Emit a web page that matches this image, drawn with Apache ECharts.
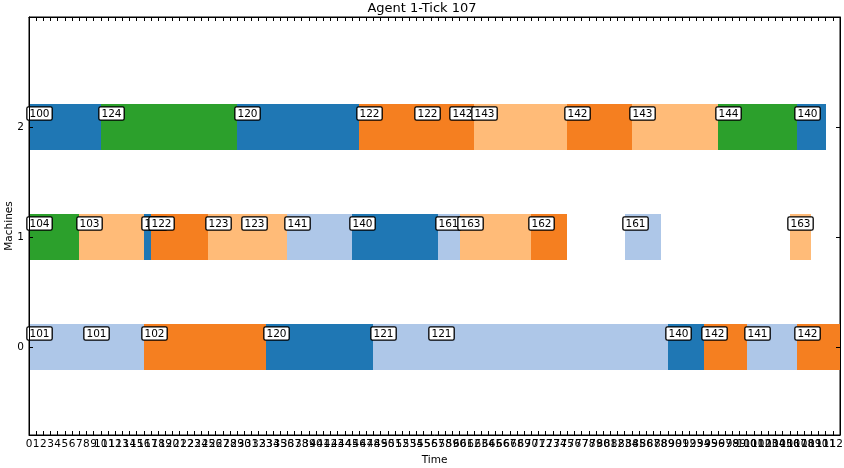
<!DOCTYPE html>
<html>
<head>
<meta charset="utf-8">
<script src="https://cdn.jsdelivr.net/npm/echarts@6/dist/echarts.min.js"></script>
<style>
  html, body { margin: 0; padding: 0; background: #fff; }
  #chart { width: 844px; height: 468px; }
</style>
</head>
<body>
<div id="chart"></div>
<script>
// Schedule of operations per machine (time units); job id labels each block.
const machineTicks = [0, 1, 2];
const taskMachine = [2, 2, 2, 2, 2, 2, 2, 2, 2, 2, 2,
                     1, 1, 1, 1, 1, 1, 1, 1, 1, 1, 1, 1, 1,
                     0, 0, 0, 0, 0, 0, 0, 0, 0, 0];
const taskStart   = [0, 10, 29, 46, 54, 59, 62, 75, 84, 96, 107,
                     0, 7, 16, 17, 25, 30, 36, 45, 57, 60, 70, 83, 106,
                     0, 8, 16, 33, 48, 56, 89, 94, 100, 107];
const taskEnd     = [10, 29, 46, 54, 59, 62, 75, 84, 96, 107, 111,
                     7, 16, 17, 25, 30, 36, 45, 57, 60, 70, 75, 88, 109,
                     8, 16, 33, 48, 56, 89, 94, 100, 107, 113];
const taskJob     = [100, 124, 120, 122, 122, 142, 143, 142, 143, 144, 140,
                     104, 103, 100, 122, 123, 123, 141, 140, 161, 163, 162, 161, 163,
                     101, 101, 102, 120, 121, 121, 140, 142, 141, 142];
const timeMax = 113;

// tab20 shades picked by the last digit of the job id
const palette = ['#1f77b4', '#aec7e8', '#f57f20', '#ffbb78', '#2ca02c',
                 '#98df8a', '#d62728', '#ff9896', '#9467bd', '#c5b0d5'];
const HALF = 0.21;

const rows = taskJob.map((job, i) => [taskMachine[i], taskStart[i], taskEnd[i], job]);

const chart = echarts.init(document.getElementById('chart'), null, { renderer: 'canvas' });
const FONT = '"DejaVu Sans", "Liberation Sans", sans-serif';

function renderBar(params, api) {
  const m = api.value(0), s = api.value(1), e = api.value(2), job = api.value(3);
  const p0 = api.coord([s, m + HALF]);
  const p1 = api.coord([e, m - HALF]);
  // snap edges to whole pixels so neighbouring blocks meet without a seam
  const x0 = Math.round(p0[0]), x1 = Math.round(p1[0]);
  const y0 = Math.round(p0[1]), y1 = Math.round(p1[1]);
  return {
    type: 'rect',
    shape: { x: x0, y: y0, width: x1 - x0, height: y1 - y0 },
    style: { fill: palette[job % 10] }
  };
}

function renderLabel(params, api) {
  const m = api.value(0), s = api.value(1), job = api.value(3);
  const p = api.coord([s, m + HALF]);
  return {
    type: 'text',
    x: Math.round(p[0]) - 1.5,
    y: Math.round(p[1]) + 3.5,
    style: {
      text: String(job),
      fill: '#000',
      fontSize: 10.5,
      fontFamily: FONT,
      align: 'left',
      verticalAlign: 'top',
      backgroundColor: '#fff',
      borderColor: '#000',
      borderWidth: 1.3,
      borderRadius: 1,
      padding: [1, 2, 0, 2]
    }
  };
}

const xLabels = {
  interval: 0,
  fontSize: 10.5,
  fontFamily: FONT,
  color: '#000',
  margin: 4,
  formatter: v => (v >= timeMax ? '' : String(v))
};

const frameLine = { show: true, onZero: false, lineStyle: { color: '#000' } };

chart.setOption({
  animation: false,
  backgroundColor: '#fff',
  title: {
    text: 'Agent 1-Tick 107',
    left: 'center',
    top: 2,
    padding: 0,
    textStyle: { fontSize: 13, fontWeight: 'normal', fontFamily: FONT, color: '#000' }
  },
  grid: {
    left: 29, right: 4, top: 17, bottom: 33,
    outerBoundsMode: 'none', containLabel: false,
    show: true, borderColor: '#000', borderWidth: 1, backgroundColor: 'transparent'
  },
  xAxis: [
    {
      type: 'value', min: 0, max: timeMax, interval: 1, position: 'bottom', z: 10,
      name: 'Time', nameLocation: 'middle', nameGap: 20,
      nameTextStyle: { fontSize: 10.5, fontFamily: FONT, color: '#000' },
      axisLine: frameLine,
      axisTick: { show: true, inside: true, length: 4, lineStyle: { color: '#000' } },
      axisLabel: xLabels,
      splitLine: { show: false }
    },
    {
      type: 'value', min: 0, max: timeMax, interval: 1, position: 'top', z: 10,
      axisLine: frameLine,
      axisTick: { show: true, inside: true, length: 4, lineStyle: { color: '#000' } },
      axisLabel: { show: false },
      splitLine: { show: false }
    }
  ],
  yAxis: [
    {
      type: 'value', min: -0.8, max: 3, position: 'left', z: 10,
      name: 'Machines', nameLocation: 'middle', nameGap: 14, nameRotate: 90,
      nameMoveOverlap: false,
      nameTextStyle: { fontSize: 10.5, fontFamily: FONT, color: '#000' },
      axisLine: frameLine,
      axisTick: { show: true, inside: true, length: 4, customValues: machineTicks, lineStyle: { color: '#000' } },
      axisLabel: { fontSize: 10.5, fontFamily: FONT, color: '#000', margin: 5, customValues: machineTicks },
      splitLine: { show: false }
    },
    {
      type: 'value', min: -0.8, max: 3, position: 'right', z: 10,
      axisLine: frameLine,
      axisTick: { show: true, inside: true, length: 4, customValues: machineTicks, lineStyle: { color: '#000' } },
      axisLabel: { show: false, customValues: machineTicks },
      splitLine: { show: false }
    }
  ],
  series: [
    {
      type: 'custom', name: 'blocks', renderItem: renderBar, data: rows,
      encode: { x: [1, 2], y: 0 }, z: 2, clip: true
    },
    {
      type: 'custom', name: 'jobs', renderItem: renderLabel, data: rows,
      encode: { x: [1, 2], y: 0 }, z: 5, clip: false
    }
  ]
});
</script>
</body>
</html>
